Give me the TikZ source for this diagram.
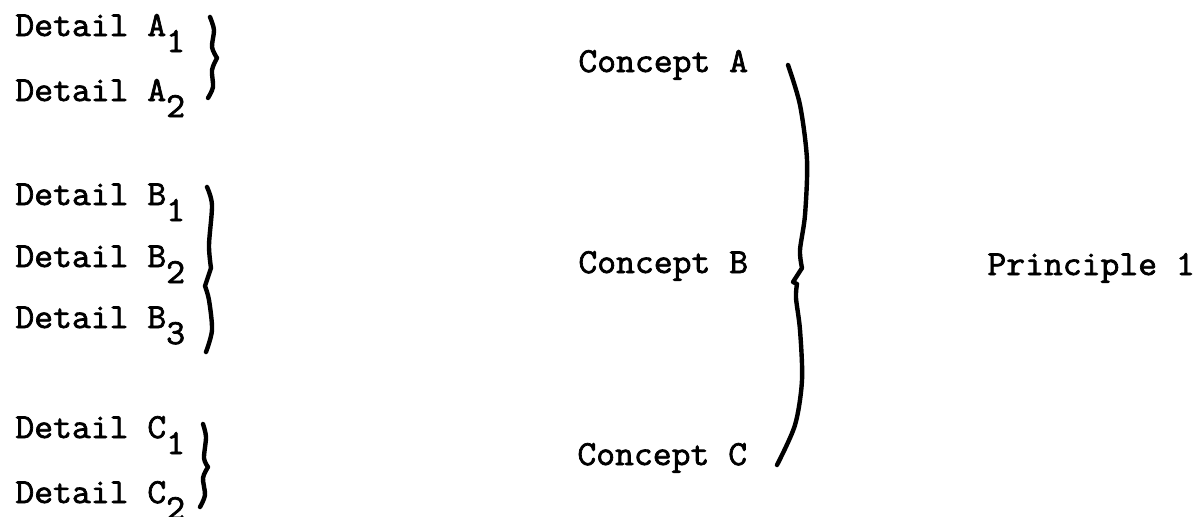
\documentclass[tikz,border=0pt]{standalone}
\usepackage{fontspec}
\newfontfamily\tw[FakeBold=2,FakeStretch=1.04]{Latin Modern Mono}
\newcommand{\lowsub}[1]{\raisebox{-8pt}{#1}}
\begin{document}
\begin{tikzpicture}[x=0.5pt,y=-0.5pt,
  lbl/.style={anchor=base west,inner sep=0pt,font=\tw\fontsize{17.6pt}{21pt}\selectfont},
  brace/.style={line width=2.2pt,line cap=round,line join=round}]
\useasboundingbox (0,0) rectangle (1202,516);
% details
\node[lbl] (a1) at (15,36) {Detail A\lowsub{1}};
\node[lbl] (a2) at (15,101) {Detail A\lowsub{2}};
\node[lbl] (b1) at (15,205) {Detail B\lowsub{1}};
\node[lbl] (b2) at (15,267) {Detail B\lowsub{2}};
\node[lbl] (b3) at (15,328) {Detail B\lowsub{3}};
\node[lbl] (c1) at (15,438) {Detail C\lowsub{1}};
\node[lbl] (c2) at (15,503) {Detail C\lowsub{2}};
% concepts
\node[lbl] (ca) at (578,72) {Concept A};
\node[lbl] (cb) at (578,273) {Concept B};
\node[lbl] (cc) at (577,465) {Concept C};
\node[lbl] (p1) at (987,275) {Principle 1};
% braces
\draw[brace] plot[smooth] coordinates {(210,17) (214,30) (212,47) (217,58)}
             plot[smooth] coordinates {(217,58) (212,70) (213,87) (208,98)};
\draw[brace] plot[smooth] coordinates {(207,187) (212,205) (209,245) (211,268)}
             -- (205,286)
             plot[smooth] coordinates {(205,286) (209,300) (212,330) (206,352)};
\draw[brace] plot[smooth] coordinates {(203,424) (206,437) (204,458) (208,467)}
             plot[smooth] coordinates {(208,467) (203,478) (205,495) (200,507)};
\draw[brace] plot[smooth] coordinates {(788,65) (800,105) (807,160) (805,215) (800,250) (802,268)}
             -- (793,282) -- (797,284)
             plot[smooth] coordinates {(797,284) (796,298) (800,330) (802,380) (795,425) (777,465)};
\end{tikzpicture}
\end{document}
